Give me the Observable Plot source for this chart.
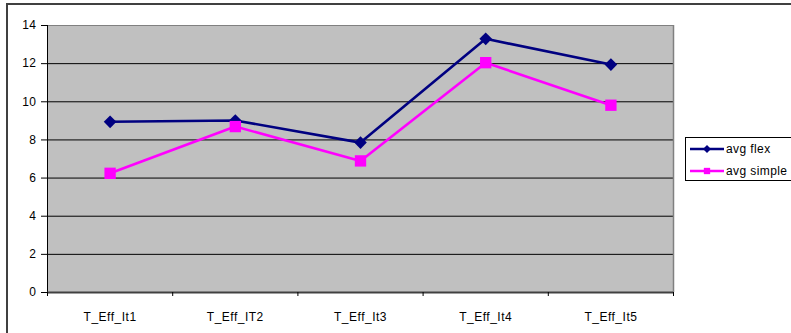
<!DOCTYPE html>
<html><head><meta charset="utf-8">
<script src="https://cdn.jsdelivr.net/npm/d3@7"></script>
<script src="https://cdn.jsdelivr.net/npm/@observablehq/plot@0.6"></script>
<style>
body{margin:0;background:#fff;}
#wrap{position:relative;width:791px;height:333px;overflow:hidden;font-family:Arial,"Liberation Sans",sans-serif;}
#wrap svg.chart{position:absolute;left:0;top:0;}
#wrap svg.chart text{letter-spacing:0.5px;}
#border{position:absolute;left:6px;top:3px;width:900px;height:400px;border-left:2px solid #404040;border-top:2px solid #404040;pointer-events:none;}
#legend{position:absolute;left:685px;top:137px;width:130px;height:42px;border:1px solid #000;background:#fff;font-size:12px;letter-spacing:0.4px;color:#000;}
.item{position:absolute;left:3px;height:12px;display:flex;align-items:center;white-space:nowrap;}
.item svg{display:block;margin-right:1px;}
</style></head><body><div id="wrap"><div id="border"></div></div>
<script>
const categories = ["T_Eff_It1", "T_Eff_IT2", "T_Eff_It3", "T_Eff_It4", "T_Eff_It5"];
const avgFlex = [8.95, 9.02, 7.86, 13.3, 11.95];
const avgSimple = [6.25, 8.7, 6.9, 12.05, 9.82];
const yTicks = [0, 2, 4, 6, 8, 10, 12, 14];
const seriesNames = ["avg flex", "avg simple"];
const seriesColors = ["#000080", "#ff00ff"];
const seriesSymbols = ["diamond2", "square"];

const rows = categories.map((c, i) => ({pos: i + 0.5, cat: c, flex: avgFlex[i], simple: avgSimple[i]}));
const bounds = d3.range(categories.length + 1);
const centers = categories.map((c, i) => i + 0.5);

const chart = Plot.plot({
  width: 791, height: 333,
  marginLeft: 47, marginRight: 118, marginTop: 25, marginBottom: 41,
  style: {fontFamily: "Arial, 'Liberation Sans', sans-serif", fontSize: "12px", background: "transparent", color: "#000", overflow: "visible"},
  x: {type: "linear", domain: [0, categories.length], axis: null},
  y: {domain: [0, 14], axis: null},
  marks: [
    Plot.frame({fill: "#c0c0c0", stroke: null}),
    Plot.ruleY(yTicks.slice(1, -1), {stroke: "#000", strokeWidth: 1}),
    Plot.ruleY([14], {stroke: "#808080", strokeWidth: 1}),
    Plot.ruleX([categories.length], {stroke: "#808080", strokeWidth: 1.5}),
    Plot.ruleX([0], {stroke: "#000", strokeWidth: 1}),
    Plot.ruleY([0], {stroke: "#404040", strokeWidth: 2}),
    Plot.axisY(yTicks, {tickSize: 6, tickPadding: 5, fontSize: 12, label: null}),
    Plot.axisX(bounds, {tickSize: 4, tickFormat: () => "", label: null}),
    Plot.axisX(centers, {tickSize: 0, tickPadding: 19.5, fontSize: 12, label: null, tickFormat: v => categories[Math.round(v - 0.5)]}),
    Plot.line(rows, {x: "pos", y: "flex", stroke: seriesColors[0], strokeWidth: 2.6}),
    Plot.dot(rows, {x: "pos", y: "flex", symbol: seriesSymbols[0], r: 5.7, fill: seriesColors[0], stroke: null}),
    Plot.line(rows, {x: "pos", y: "simple", stroke: seriesColors[1], strokeWidth: 2.6}),
    Plot.dot(rows, {x: "pos", y: "simple", symbol: seriesSymbols[1], r: 6.4, fill: seriesColors[1], stroke: null})
  ]
});
chart.classList.add("chart");
const wrap = document.getElementById("wrap");
wrap.insertBefore(chart, wrap.firstChild);

// legend
const legend = document.createElement("div");
legend.id = "legend";
seriesNames.forEach((name, k) => {
  const item = document.createElement("div");
  item.className = "item";
  item.style.top = (k === 0 ? 5 : 27) + "px";
  const s = d3.create("svg").attr("width", 36).attr("height", 12);
  s.append("line").attr("x1", 1).attr("x2", 35).attr("y1", 6).attr("y2", 6)
    .attr("stroke", seriesColors[k]).attr("stroke-width", 2.6);
  s.append("path").attr("transform", "translate(18,6)")
    .attr("d", d3.symbol(k === 0 ? d3.symbolDiamond2 : d3.symbolSquare, 40)())
    .attr("fill", seriesColors[k]);
  item.appendChild(s.node());
  const t = document.createElement("span");
  t.textContent = name;
  item.appendChild(t);
  legend.appendChild(item);
});
wrap.appendChild(legend);
</script>
</body></html>
